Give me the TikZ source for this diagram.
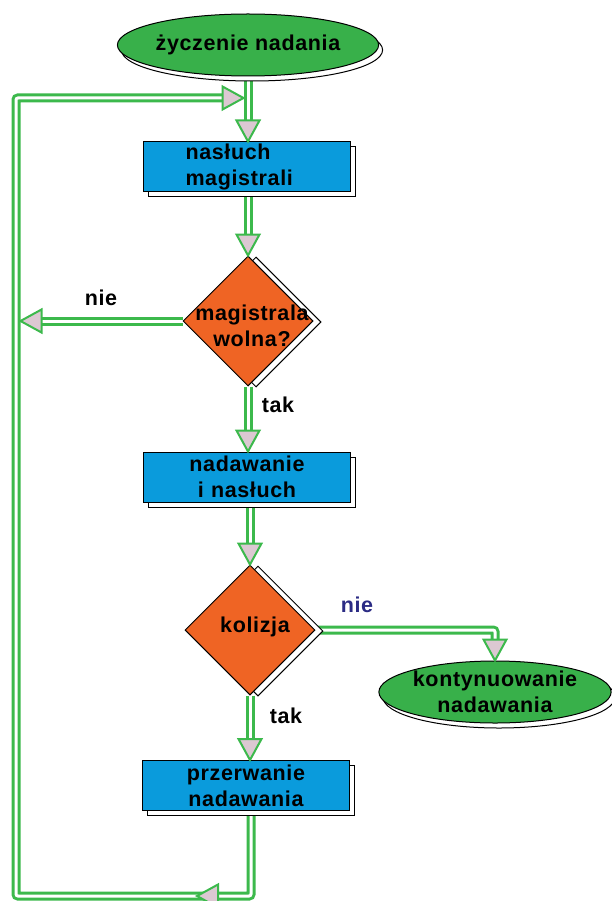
\documentclass[tikz,border=0pt]{standalone}
\usepackage{fontspec}
\newfontfamily\chartfont{Liberation Sans}[LetterSpace=3]
\usetikzlibrary{shapes.geometric,shadows,backgrounds}
\definecolor{linegreen}{HTML}{3CB94C}
\definecolor{ovalgreen}{HTML}{38B04A}
\definecolor{boxblue}{HTML}{0A9BDC}
\definecolor{decorange}{HTML}{EF6424}
\definecolor{tipfill}{HTML}{DCC8D2}
\definecolor{labelnavy}{HTML}{2B2B84}
\begin{document}
\begin{tikzpicture}[x=1pt,y=-1pt,
  txt/.style={font=\chartfont\bfseries\fontsize{21.5}{26}\selectfont, text=black},
  terminal/.style={ellipse, draw=black, line width=1pt, fill=ovalgreen,
    minimum width=230pt, minimum height=62pt, inner sep=0pt, txt, align=center,
    general shadow={shadow xshift=4pt, shadow yshift=-5pt, fill=white, draw=black, line width=1pt}},
  process/.style={rectangle, draw=black, line width=1pt, fill=boxblue,
    minimum width=207pt, minimum height=50pt, inner sep=0pt, txt,
    text width=123pt, align=center,
    general shadow={shadow xshift=5pt, shadow yshift=-5pt, fill=white, draw=black, line width=1pt}},
  decision/.style={diamond, draw=black, line width=1pt, fill=decorange,
    minimum width=130pt, minimum height=130pt, inner sep=0pt,
    general shadow={shadow xshift=8pt, shadow yshift=-1pt, fill=white, draw=black, line width=1pt}},
  flow/.style={draw=linegreen, line width=3pt, double=white, double distance=3pt,
    rounded corners=2pt},
  tipline/.style={draw=linegreen, line width=2pt, fill=tipfill, line join=miter},
  pics/flowtip/.style={code={\draw[tipline] (0,0) -- (-21,11.5) -- (-21,-11.5) -- cycle;}}
]
\useasboundingbox (0,0) rectangle (612,901);

% shapes of the flow chart
\node[terminal] (start) at (248,45) {życzenie nadania};
\node[process, align=left] (listen) at (247,167) {nasłuch\\magistrali};
\node[decision] (free) at (248,321) {};
\node[txt, align=center, xshift=4pt, yshift=-5pt] (freeq) at (free) {magistrala\\wolna?};
\node[process] (send) at (247,477) {nadawanie\\i nasłuch};
\node[decision] (coll) at (250,630) {};
\node[txt, xshift=5pt, yshift=3pt] (collq) at (coll) {kolizja};
\node[terminal] (cont) at (495,692) {kontynuowanie\\nadawania};
\node[process] (abort) at (246,785.5) {przerwanie\\nadawania};

% branch labels
\node[txt, anchor=base] (noFree) at (101,305) {nie};
\node[txt, anchor=base] (yesFree) at (278,412) {tak};
\node[txt, anchor=base, text=labelnavy] (noColl) at (357,612) {nie};
\node[txt, anchor=base] (yesColl) at (286,723) {tak};

% return loop rail
\coordinate (join) at (248,98);
\coordinate (railTop) at (16,98);
\coordinate (railBottom) at (16,896);

\begin{pgfonlayer}{background}
\draw[flow, shorten >=12pt] (start.south) -- (start.south |- listen.north);
\draw[flow, shorten >=12pt] (free.north |- listen.south) -- (free.north);
\draw[flow, shorten >=16.5pt] (free.west) -- (free.west -| railTop);
\draw[flow, shorten >=12pt] (free.south) -- (free.south |- send.north);
\draw[flow, shorten >=12pt] (coll.north |- send.south) -- (coll.north);
\draw[flow, shorten >=12pt] (coll.east) -| (cont.north);
\draw[flow, shorten >=12pt] (coll.south) -- (coll.south |- abort.north);
\draw[flow, shorten >=16.5pt] ([xshift=5pt]abort.south) |- (railBottom) -- (railTop) -- (join);
\end{pgfonlayer}

% arrowheads
\pic[rotate=-90] at (start.south |- listen.north) {flowtip};
\pic[rotate=-90] at (free.north) {flowtip};
\pic[xshift=4.5pt, rotate=180] at (free.west -| railTop) {flowtip};
\pic[rotate=-90] at (free.south |- send.north) {flowtip};
\pic[rotate=-90] at (coll.north) {flowtip};
\pic[rotate=-90] at (cont.north) {flowtip};
\pic[rotate=-90] at (coll.south |- abort.north) {flowtip};
\pic[xshift=-4.5pt] at (join) {flowtip};
\pic[rotate=180] at (197,896) {flowtip};
\end{tikzpicture}
\end{document}
